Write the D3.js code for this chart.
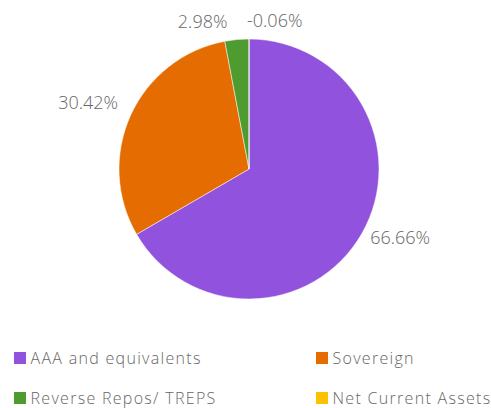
<!DOCTYPE html>
<html><head><meta charset="utf-8">
<script src="https://cdn.jsdelivr.net/npm/d3@7"></script>
<style>html,body{margin:0;padding:0;background:#fff;}svg{display:block;}</style>
</head><body>
<svg id="chart" width="491" height="408"></svg>
<script>
const categories = ["AAA and equivalents", "Sovereign", "Reverse Repos/ TREPS", "Net Current Assets"];
const values = [66.66, 30.42, 2.98, -0.06];
const labels = ["66.66%", "30.42%", "2.98%", "-0.06%"];
const colors = ["#9152de", "#e56c00", "#4e9b2f", "#fcc100"];

const svg = d3.select("#chart");
const cx = 249, cy = 169, r = 130;
const font = "'Open Sans', sans-serif";

const pie = d3.pie().sort(null).value(d => Math.max(0, d));
const arcs = pie(values);
const arc = d3.arc().innerRadius(0).outerRadius(r);
const labelArc = d3.arc().innerRadius(145).outerRadius(145);
const nudgeX = [-4.5, 1, -8, -2];
const nudgeY = [-3.5, -6, -3.5, -3.5];

const g = svg.append("g").attr("transform", `translate(${cx},${cy})`);
g.selectAll("path").data(arcs).join("path")
  .attr("d", arc).attr("fill", (d, i) => colors[i])
  .attr("stroke", "#fff").attr("stroke-width", 0.5);

g.selectAll("text").data(arcs).join("text")
  .attr("transform", (d, i) => { const c = labelArc.centroid(d); return `translate(${c[0] + nudgeX[i]},${c[1] + nudgeY[i]})`; })
  .attr("text-anchor", d => { const m = (d.startAngle + d.endAngle) / 2; return (m > Math.PI && m < 2 * Math.PI - 1e-6) ? "end" : "start"; })
  .attr("dy", "0.36em")
  .attr("font-family", font).attr("font-weight", 300).attr("font-size", 18)
  .attr("fill", "#666")
  .text((d, i) => labels[i]);

const legend = svg.append("g");
const lx = [14, 316], ly = [364, 404];
categories.forEach((c, i) => {
  const x = lx[i % 2], y = ly[Math.floor(i / 2)];
  legend.append("rect").attr("x", x).attr("y", y - 12).attr("width", 12).attr("height", 12).attr("fill", colors[i]);
  legend.append("text").attr("x", x + 16.5).attr("y", y)
    .attr("font-family", font).attr("font-weight", 300).attr("font-size", 16)
    .attr("letter-spacing", 1.3)
    .attr("fill", "#666").text(c);
});
</script>
</body></html>
